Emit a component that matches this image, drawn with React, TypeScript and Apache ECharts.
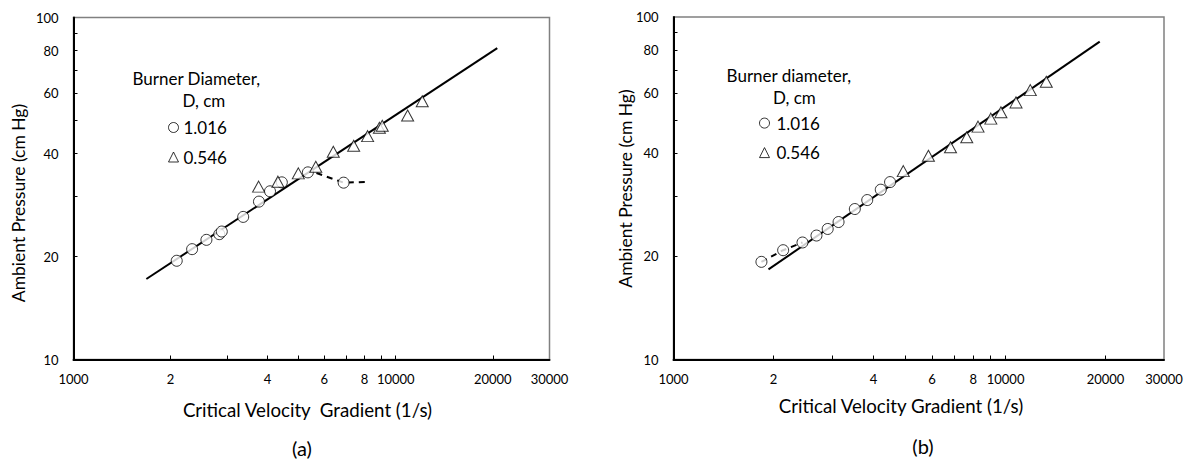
import React, { useEffect, useRef } from 'react';
import * as echarts from 'echarts';

// ---- axis ticks / labels ----
const xTickValues = [2000, 3000, 4000, 5000, 6000, 7000, 8000, 9000, 10000, 20000];
const xLabelValues = [1000, 2000, 4000, 6000, 8000, 10000, 20000, 30000];
const yTickValues = [20, 30, 40, 50, 60, 70, 80, 90];
const yLabelValues = [10, 20, 40, 60, 80, 100];

// ---- panel (a) ----
const aCircleX = [2091, 2334, 2585, 2834, 2885, 3362, 3763, 4072, 4431, 5338, 6891];
const aCircleY = [19.44, 21.02, 22.38, 23.25, 23.67, 26.12, 28.95, 31.03, 32.96, 35.25, 32.89];
const aTriX = [3753, 4309, 4985, 5647, 6400, 7403, 8178, 8897, 9081, 10886, 12084];
const aTriY = [32.02, 33.11, 35.01, 36.62, 40.5, 42.17, 44.99, 47.59, 48.23, 51.68, 56.9];
const aFitX = [1683, 20655];
const aFitY = [17.19, 81.4];
const aDashX = [5674, 6891, 8051];
const aDashY = [35.09, 32.89, 33.03];

// ---- panel (b) ----
const bCircleX = [1840, 2139, 2446, 2695, 2913, 3141, 3516, 3832, 4209, 4489];
const bCircleY = [19.28, 20.85, 21.96, 23.01, 24.05, 25.2, 27.5, 29.21, 31.32, 32.96];
const bTriX = [4920, 5857, 6826, 7641, 8261, 9028, 9683, 10752, 11871, 13262];
const bTriY = [35.48, 39.33, 41.67, 44.57, 47.86, 50.5, 52.69, 56.32, 61.17, 64.7];
const bFitX = [1932, 19212];
const bFitY = [18.32, 84.75];
const bDashX = [1840, 2139, 2446];
const bDashY = [19.28, 20.85, 21.96];

const seriesNames = ['1.016', '0.546'];

const FONT = 'Lato, "Noto Sans", sans-serif';

const pairs = (xs: number[], ys: number[]) => xs.map((x, i) => [x, ys[i]]);

const xFmt = (v: number) => (v > 1000 && v < 10000 ? String(Math.round(v / 1000)) : String(v));

function makeXAxis(gridIndex: number) {
  return {
    type: 'log',
    logBase: 10,
    gridIndex,
    min: 1000,
    max: 30000,
    axisLine: { show: true, lineStyle: { color: '#000', width: 2 } },
    axisTick: { show: true, inside: true, length: 4, customValues: xTickValues, lineStyle: { color: '#000', width: 1 } },
    minorTick: { show: false },
    splitLine: { show: false },
    axisLabel: {
      customValues: xLabelValues,
      formatter: xFmt,
      margin: 13,
      color: '#000',
      fontFamily: FONT,
      fontSize: 13,
    },
  };
}

function makeYAxis(gridIndex: number) {
  return {
    type: 'log',
    logBase: 10,
    gridIndex,
    min: 10,
    max: 100,
    axisLine: { show: true, lineStyle: { color: '#000', width: 2 } },
    axisTick: { show: true, inside: true, length: 4, customValues: yTickValues, lineStyle: { color: '#000', width: 1 } },
    minorTick: { show: false },
    splitLine: { show: false },
    axisLabel: {
      customValues: yLabelValues,
      formatter: (v: number) => String(Math.round(v)),
      margin: 15,
      color: '#000',
      fontFamily: FONT,
      fontSize: 13,
    },
  };
}

const markerStyle = { color: '#fff', borderColor: '#000', borderWidth: 1 };

function panelSeries(idx: number, cx: number[], cy: number[], tx: number[], ty: number[], fx: number[], fy: number[], dx: number[], dy: number[]) {
  return [
    {
      type: 'line',
      xAxisIndex: idx,
      yAxisIndex: idx,
      data: pairs(fx, fy),
      showSymbol: false,
      lineStyle: { color: '#000', width: 2 },
      z: 2,
      silent: true,
    },
    {
      type: 'line',
      xAxisIndex: idx,
      yAxisIndex: idx,
      data: pairs(dx, dy),
      showSymbol: false,
      lineStyle: { color: '#000', width: 2, type: [6, 5] },
      z: 2,
      silent: true,
    },
    {
      name: seriesNames[0],
      type: 'scatter',
      xAxisIndex: idx,
      yAxisIndex: idx,
      data: pairs(cx, cy),
      symbol: 'circle',
      symbolSize: 11,
      itemStyle: markerStyle,
      z: 3,
    },
    {
      name: seriesNames[1],
      type: 'scatter',
      xAxisIndex: idx,
      yAxisIndex: idx,
      data: pairs(tx, ty),
      symbol: 'triangle',
      symbolSize: [12, 11],
      itemStyle: markerStyle,
      z: 3,
    },
  ];
}

function txt(text: string, x: number, y: number, size: number, align = 'center', rotation = 0) {
  return {
    type: 'text',
    x,
    y,
    rotation,
    style: {
      text,
      fill: '#000',
      fontFamily: FONT,
      fontSize: size,
      align,
      verticalAlign: 'middle',
    },
  };
}

function legendAt(left: number, top: number, textPad: number) {
  return {
    data: seriesNames,
    orient: 'vertical',
    left,
    top,
    padding: 0,
    itemWidth: 10,
    itemHeight: 10,
    itemGap: 12.5,
    selectedMode: false,
    itemStyle: { borderWidth: 1, borderColor: '#000', color: '#fff' },
    textStyle: { color: '#000', fontFamily: FONT, fontSize: 17, padding: [0, 0, 0, textPad] },
  };
}

export default function App() {
  const ref = useRef<HTMLDivElement>(null);
  useEffect(() => {
    if (!ref.current) return;
    const chart = echarts.init(ref.current, undefined, { renderer: 'svg' });
    const option = {
      animation: false,
      backgroundColor: '#fff',
      grid: [
        { left: 73.5, top: 17.5, width: 476, height: 342, show: true, borderColor: '#808080', borderWidth: 1.5, backgroundColor: 'transparent' },
        { left: 673.5, top: 17, width: 490.5, height: 342.5, show: true, borderColor: '#808080', borderWidth: 1.5, backgroundColor: 'transparent' },
      ],
      xAxis: [makeXAxis(0), makeXAxis(1)],
      yAxis: [makeYAxis(0), makeYAxis(1)],
      legend: [legendAt(168, 119, 0), legendAt(759, 114.6, 2)],
      graphic: [
        txt('Ambient Pressure (cm Hg)', 18.5, 203, 17.5, 'center', Math.PI / 2),
        txt('Ambient Pressure (cm Hg)', 625, 188.5, 17.5, 'center', Math.PI / 2),
        txt('Critical Velocity  Gradient (1/s)', 307.5, 409.5, 18.7),
        txt('Critical Velocity Gradient (1/s)', 901, 406, 18.7),
        txt('(a)', 302, 447.5, 20),
        txt('(b)', 923, 446, 20),
        txt('Burner Diameter,', 132.5, 78.5, 17, 'left'),
        txt('D, cm', 182.5, 100.7, 17, 'left'),
        txt('Burner diameter,', 726.6, 75.8, 17, 'left'),
        txt('D, cm', 773, 97.3, 17, 'left'),
      ],
      series: [
        ...panelSeries(0, aCircleX, aCircleY, aTriX, aTriY, aFitX, aFitY, aDashX, aDashY),
        ...panelSeries(1, bCircleX, bCircleY, bTriX, bTriY, bFitX, bFitY, bDashX, bDashY),
      ],
    };
    chart.setOption(option as any);
    return () => chart.dispose();
  }, []);
  return <div ref={ref} style={{ position: 'absolute', left: 0, top: 0, width: 1187, height: 461, background: '#fff' }} />;
}
